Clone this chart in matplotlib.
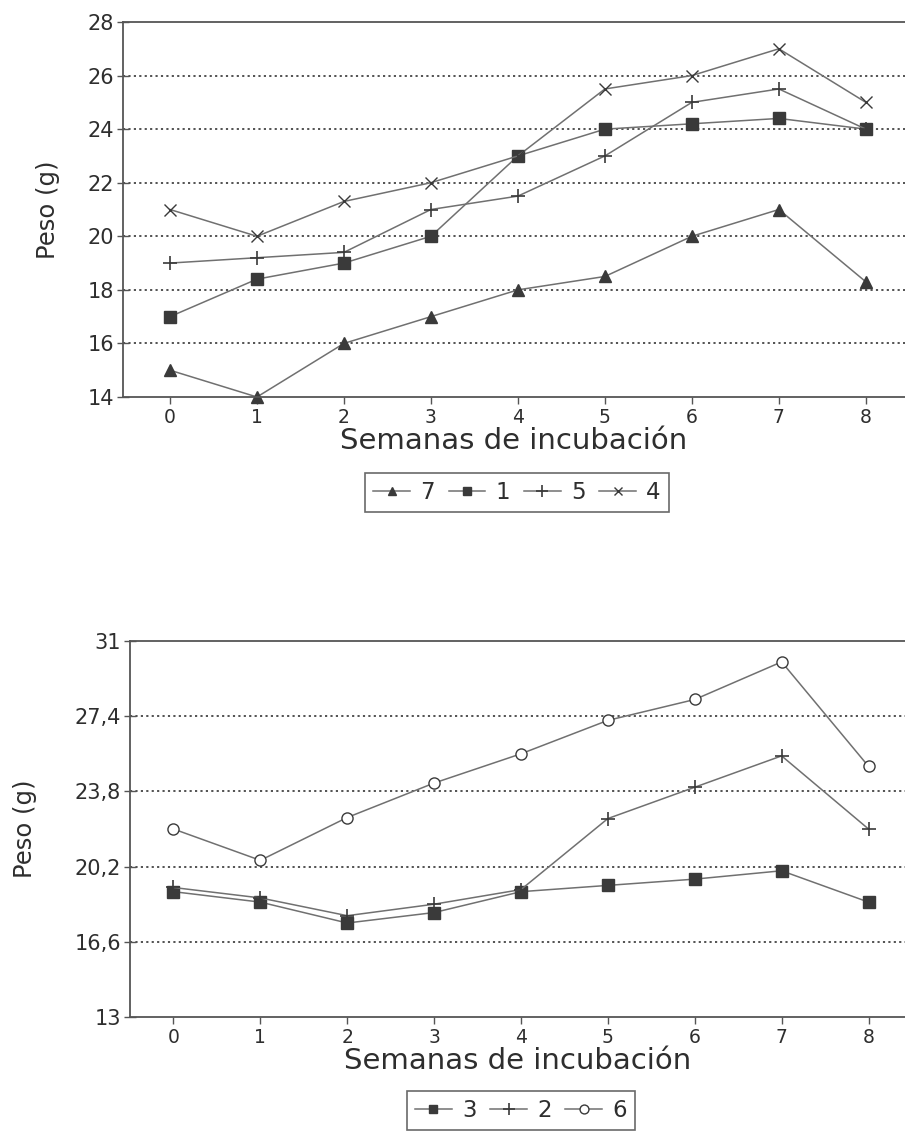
import matplotlib
matplotlib.use("Agg")
import matplotlib.pyplot as plt
from matplotlib.ticker import FixedLocator, FuncFormatter

plt.rcParams['font.family'] = ['DejaVu Sans']

weeks = [0, 1, 2, 3, 4, 5, 6, 7, 8]

# Top chart
top_labels = ["7", "1", "5", "4"]
s7 = [15, 14, 16, 17, 18, 18.5, 20, 21, 18.3]
s1 = [17, 18.4, 19, 20, 23, 24, 24.2, 24.4, 24]
s5 = [19, 19.2, 19.4, 21, 21.5, 23, 25, 25.5, 24]
s4 = [21, 20, 21.3, 22, 23, 25.5, 26, 27, 25]
top_yticks = [14, 16, 18, 20, 22, 24, 26, 28]

# Bottom chart
bot_labels = ["3", "2", "6"]
s3 = [19.0, 18.5, 17.5, 18.0, 19.0, 19.3, 19.6, 20.0, 18.5]
s2 = [19.2, 18.7, 17.85, 18.4, 19.1, 22.5, 24.0, 25.5, 22.0]
s6 = [22.0, 20.5, 22.55, 24.2, 25.6, 27.2, 28.2, 30.0, 25.0]
bot_yticks = [13, 16.6, 20.2, 23.8, 27.4, 31]

W, H = 905, 1136
fig = plt.figure(figsize=(W / 100, H / 100), dpi=100)

line_c = '#707070'
mark_c = '#3a3a3a'
txt_c = '#2e2e2e'


def setup(ax, yticks, ylim, comma=False):
    ax.set_ylim(*ylim)
    ax.set_xticks(weeks)
    ax.yaxis.set_major_locator(FixedLocator(yticks))
    if comma:
        ax.yaxis.set_major_formatter(FuncFormatter(
            lambda v, p: (('%g' % v).replace('.', ','))))
    else:
        ax.yaxis.set_major_formatter(FuncFormatter(lambda v, p: '%d' % v))
    for y in yticks[1:-1]:
        ax.axhline(y, color='#444444', lw=1.3, ls=(0, (1.2, 1.8)), zorder=0)
    ax.spines['right'].set_visible(False)
    for s in ['left', 'top', 'bottom']:
        ax.spines[s].set_color('#555555')
        ax.spines[s].set_linewidth(1.3)
    ax.tick_params(axis='y', direction='inout', length=9, width=1,
                   color='#555555', labelsize=15, labelcolor=txt_c, pad=2)
    ax.tick_params(axis='x', direction='out', length=5, width=1,
                   color='#555555', labelsize=13.5, labelcolor=txt_c, pad=3)
    ax.set_xlabel('Semanas de incubación', fontsize=21, color=txt_c, labelpad=0)
    ax.set_ylabel('Peso (g)', fontsize=17.5, color=txt_c)


def style_legend(leg):
    leg.get_frame().set_edgecolor('#444444')
    leg.get_frame().set_linewidth(1.2)
    for t in leg.get_texts():
        t.set_color(txt_c)


leg_kw = dict(loc='upper center', fontsize=16.5, frameon=True, fancybox=False,
              handlelength=1.6, handletextpad=0.45, columnspacing=0.6,
              borderpad=0.35, borderaxespad=0, markerscale=0.8)

# top axes: x from 123 to 905, y from 22 to 397
ax1 = fig.add_axes([123 / W, 1 - 397 / H, (905 - 123) / W, (397 - 22) / H])
setup(ax1, top_yticks, (14, 28))
ax1.set_xlim(-0.54, 8.45)
ax1.yaxis.set_label_coords((60 - 123) / 782, 0.5)
kw = dict(color=line_c, lw=1.1, markeredgecolor=mark_c, markerfacecolor=mark_c)
h7, = ax1.plot(weeks, s7, marker='^', ms=8, label=top_labels[0], **kw)
h1, = ax1.plot(weeks, s1, marker='s', ms=8, label=top_labels[1], **kw)
h5, = ax1.plot(weeks, s5, marker='+', ms=10, mew=1.2, label=top_labels[2], **kw)
h4, = ax1.plot(weeks, s4, marker='x', ms=8, mew=1.0, label=top_labels[3], **kw)
for a in [h7, h1, h5, h4]:
    a.set_clip_on(False)
leg1 = ax1.legend(handles=[h7, h1, h5, h4], ncol=4,
                  bbox_to_anchor=((517 - 123) / 782, -(473 - 397) / 375),
                  **leg_kw)
style_legend(leg1)

# bottom axes: x from 130 to 905, y from 641 to 1017
ax2 = fig.add_axes([130 / W, 1 - 1017 / H, (905 - 130) / W, (1017 - 641) / H])
setup(ax2, bot_yticks, (13, 31), comma=True)
ax2.set_xlim(-0.5, 8.42)
ax2.yaxis.set_label_coords((37 - 130) / 775, 0.5)
kw2 = dict(color=line_c, lw=1.1, markeredgecolor=mark_c)
g3, = ax2.plot(weeks, s3, marker='s', ms=8, markerfacecolor=mark_c, label=bot_labels[0], **kw2)
g2, = ax2.plot(weeks, s2, marker='+', ms=10, mew=1.2, label=bot_labels[1], **kw2)
g6, = ax2.plot(weeks, s6, marker='o', ms=8, markerfacecolor='white', mew=1.0, label=bot_labels[2], **kw2)
leg2 = ax2.legend(handles=[g3, g2, g6], ncol=3,
                  bbox_to_anchor=((521 - 130) / 775, -(1091 - 1017) / 376),
                  **leg_kw)
style_legend(leg2)

fig.savefig('out.png', dpi=100, facecolor='white')
